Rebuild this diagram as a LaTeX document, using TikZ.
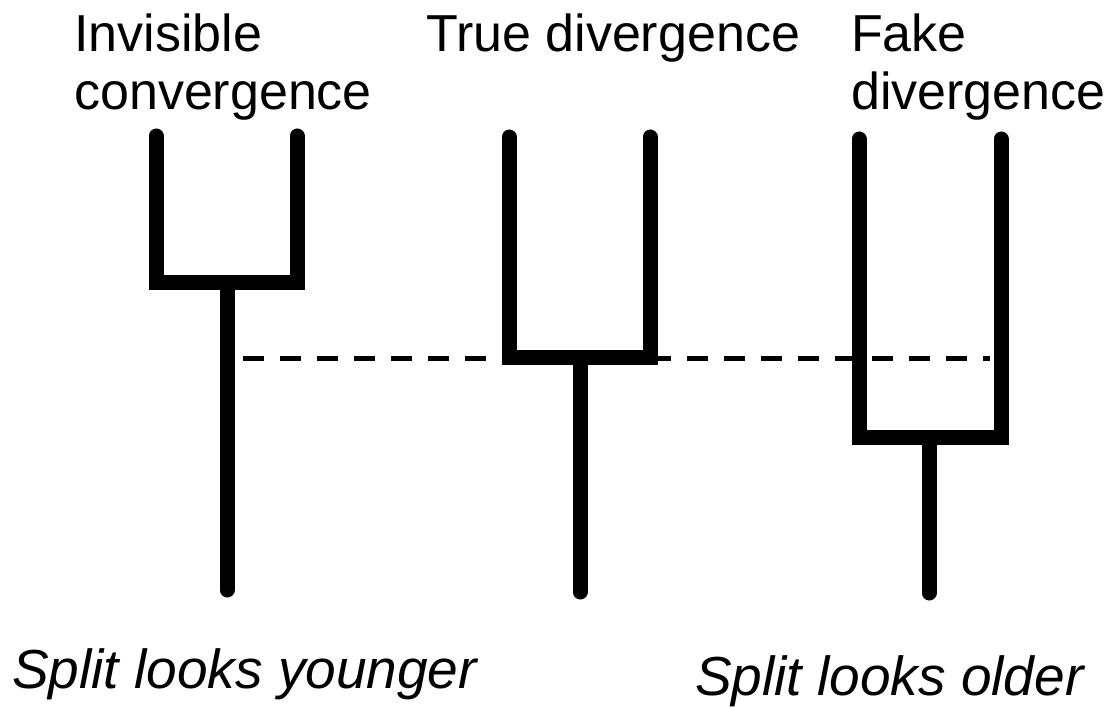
\documentclass[tikz,border=0pt]{standalone}
\usepackage{fontspec}
\setmainfont{Liberation Sans}
\begin{document}
\begin{tikzpicture}[x=1pt,y=-1pt,
  branch/.style={line width=15pt,line cap=round,line join=miter},
  guide/.style={line width=5pt,dash pattern=on 21pt off 16pt},
  label/.style={inner sep=0pt,anchor=base west,align=left,font=\fontsize{52}{58}\selectfont},
  note/.style={inner sep=0pt,anchor=base west,font=\fontsize{55}{60}\selectfont\itshape}]
\useasboundingbox (0,0) rectangle (1116,708);
% guide line
\coordinate (g1) at (243,359);
\coordinate (g2) at (990,359);
\draw[guide] (g1) -- (g2);
% tree 1
\coordinate (a1) at (156,136);
\coordinate (a2) at (297,136);
\coordinate (aj) at (227,283);
\coordinate (ar) at (227,590);
\draw[branch] (a1) -- (a1 |- aj) -- (a2 |- aj) -- (a2);
\draw[branch,line cap=butt] (aj) -- (227,584);
\draw[branch] (227,580) -- (ar);
% tree 2
\coordinate (b1) at (509,137);
\coordinate (b2) at (650,137);
\coordinate (bj) at (580,358);
\coordinate (br) at (580,592);
\draw[branch] (b1) -- (b1 |- bj) -- (b2 |- bj) -- (b2);
\draw[branch,line cap=butt] (bj) -- (580,586);
\draw[branch] (580,582) -- (br);
% tree 3
\coordinate (c1) at (859,139);
\coordinate (c2) at (1001,139);
\coordinate (cj) at (929,437);
\coordinate (cr) at (929,593);
\draw[branch] (c1) -- (c1 |- cj) -- (c2 |- cj) -- (c2);
\draw[branch,line cap=butt] (cj) -- (929,587);
\draw[branch] (929,583) -- (cr);
% labels
\node[label] (t1) at (74,110) {Invisible\\convergence};
\node[label] (t2) at (426,52) {True divergence};
\node[label] (t3) at (851,110) {Fake\\divergence};
\node[note] (n1) at (12,688) {Split looks younger};
\node[note] (n2) at (695,695) {Split looks older};
\end{tikzpicture}
\end{document}
